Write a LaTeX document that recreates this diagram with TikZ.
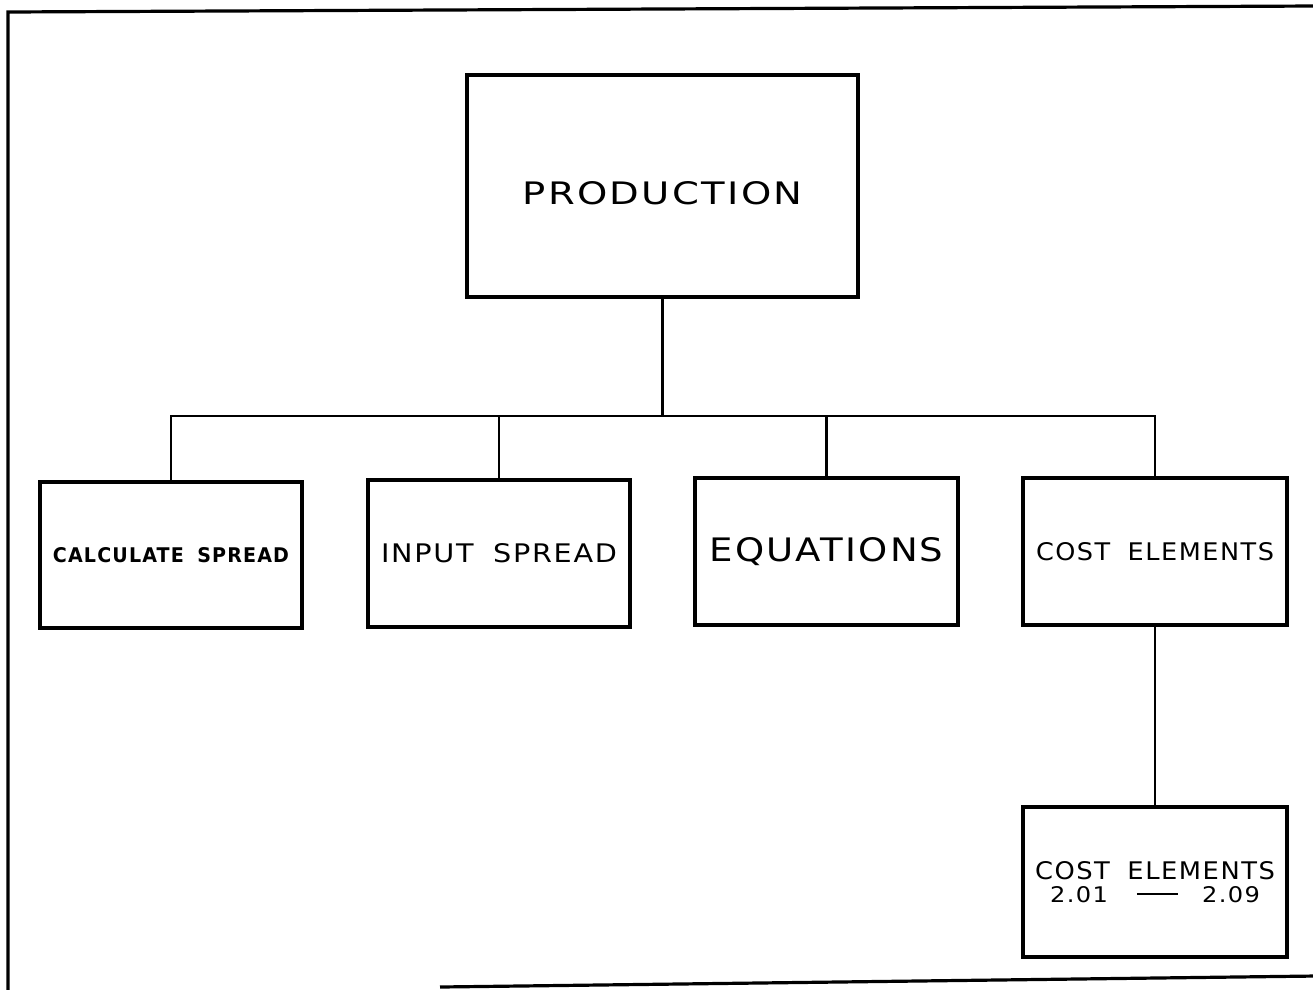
\documentclass[tikz,border=0pt]{standalone}
\usepackage{fontspec}
\usepackage{graphicx}
\newfontfamily\lblfont{DejaVu Sans}[LetterSpace=6]
\newcommand{\fitlbl}[3]{\resizebox{#1}{#2}{\lblfont #3}}
\newcommand{\wsp}{\ \hspace{0.3em}}
\begin{document}
\begin{tikzpicture}[x=1pt,y=-1pt,
  box/.style={draw, line width=3.2pt, rectangle, inner sep=0pt, anchor=center},
  wire/.style={line width=2.2pt},
  frame/.style={line width=3.2pt}]
\useasboundingbox (0,0) rectangle (1313,989);
% frame
\draw[frame] (8,992) -- (8,12) -- (1316,6);
\draw[frame] (440,987) -- (1316,976);
% boxes
\node[box, minimum width=391pt, minimum height=222pt] (prod) at (662.5,186)
  {\raisebox{0pt}[37pt][0pt]{\fitlbl{280pt}{23pt}{PRODUCTION}}};
\node[box, minimum width=262pt, minimum height=146pt] (calc) at (171,555)
  {\fitlbl{236pt}{15pt}{\bfseries CALCULATE\wsp SPREAD}};
\node[box, minimum width=262pt, minimum height=147pt] (input) at (499,553.5)
  {\fitlbl{236pt}{19pt}{INPUT\wsp SPREAD}};
\node[box, minimum width=263pt, minimum height=147pt] (eq) at (826.5,551.5)
  {\fitlbl{234pt}{24pt}{EQUATIONS}};
\node[box, minimum width=264pt, minimum height=147pt] (cost) at (1155,551.5)
  {\fitlbl{238pt}{18pt}{COST\wsp ELEMENTS}};
\node[box, minimum width=264pt, minimum height=150pt, align=center] (cost2) at (1155,882)
  {\fitlbl{240pt}{18pt}{COST\wsp ELEMENTS}\\[5pt]
   \fitlbl{210pt}{16pt}{2.01\hspace{1.2em}\rule[0.32em]{1.7em}{0.09em}\hspace{1.0em}2.09}};
% connectors
\coordinate (bus) at (662.5,416);
\draw[wire] (prod.south) -- (bus);
\draw[wire] (calc.north) |- (bus) -| (cost.north);
\draw[wire] (input.north) -- (input.north |- bus);
\draw[wire] (eq.north) -- (eq.north |- bus);
\draw[wire] (cost.south) -- (cost2.north);
\end{tikzpicture}
\end{document}
